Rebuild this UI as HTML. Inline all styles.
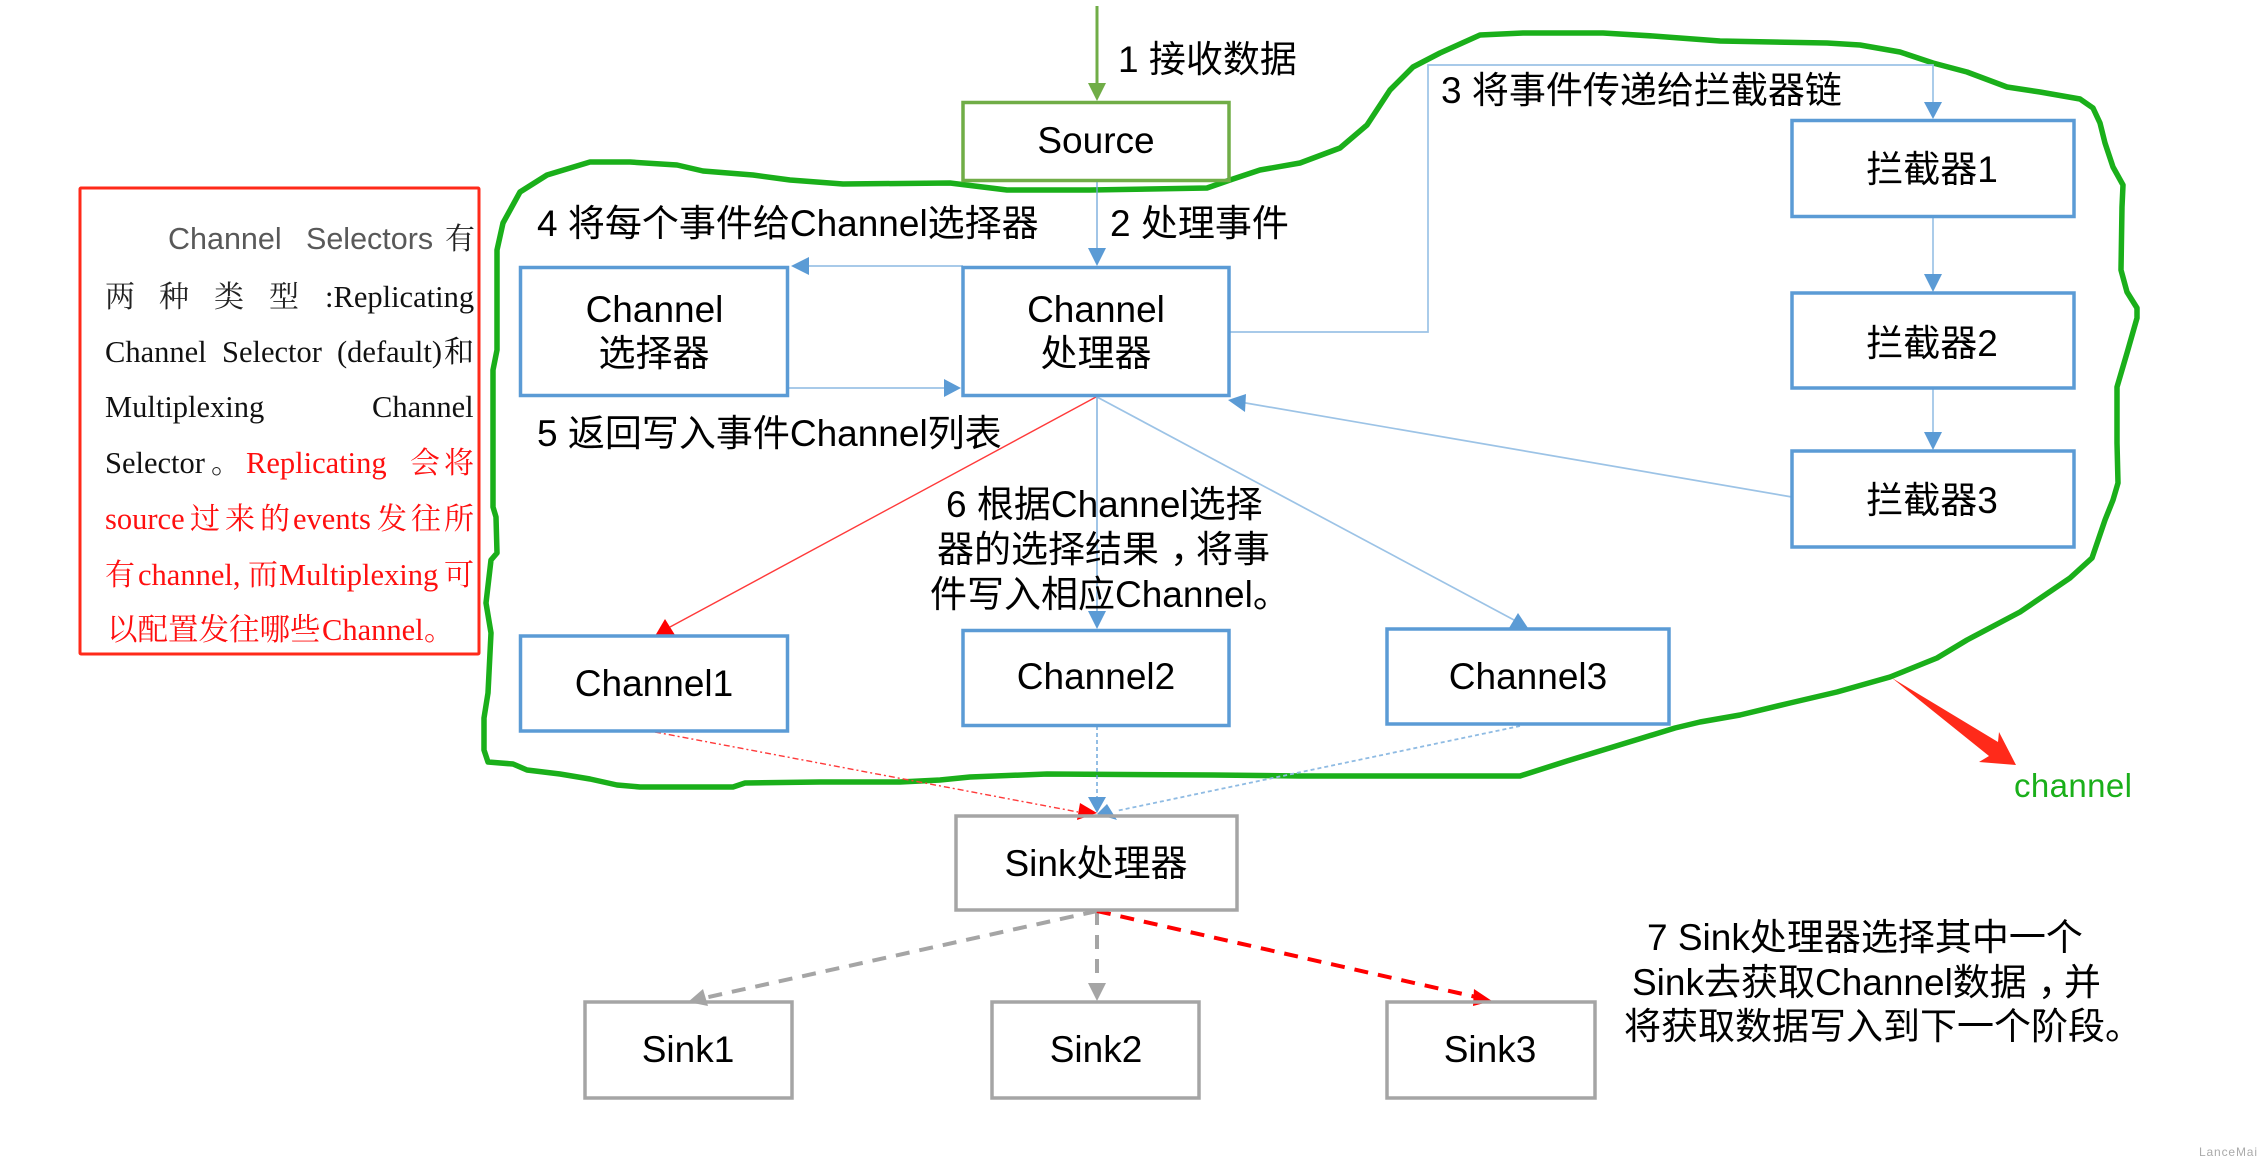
<!DOCTYPE html>
<html lang="zh">
<head>
<meta charset="utf-8">
<title>Flume Channel Diagram</title>
<style>
html,body{margin:0;padding:0;background:#fff;width:2266px;height:1166px;overflow:hidden}
svg{display:block}
text{font-family:"Liberation Sans","Noto Sans CJK SC",sans-serif;fill:#000}
.l{font-size:37px;text-anchor:middle}
.t{font-size:37px}
.s{font-family:"Liberation Serif","Noto Serif CJK SC",serif;font-size:30.5px;fill:#111}
.c{font-family:"Liberation Serif","Noto Serif CJK SC",serif;font-size:30px;fill:#222}
.r{fill:#ff0f0f}
.box{fill:none;stroke:#5b9bd5;stroke-width:3.5}
.g{fill:none;stroke:#a5a5a5;stroke-width:3.5}
.w{fill:none;stroke:#9cc3e6;stroke-width:1.7}
.n{fill:none;stroke:#6ea6da;stroke-width:1.3}
.h{fill:#5b9bd5}
</style>
</head>
<body>
<svg width="2266" height="1166" viewBox="0 0 2266 1166" xmlns="http://www.w3.org/2000/svg">
<rect width="2266" height="1166" fill="#fff"/>

<!-- green blob -->
<path fill="none" stroke="#1aaf1a" stroke-width="5.5" stroke-linejoin="round" stroke-linecap="round" d="M590 162 L630 162 L677 165 L703 171 L753 175 L790 180 L843 184 L950 183 L1007 190 L1090 190 L1207 188 L1233 179 L1260 170 L1300 163 L1340 148 L1367 125 L1390 90 L1413 67 L1440 53 L1480 35 L1523 33 L1603 33 L1653 36 L1720 41 L1827 43 L1860 45 L1900 52 L1933 63 L1967 72 L2007 87 L2040 92 L2080 99 L2093 108 L2100 123 L2105 143 L2113 167 L2123 185 L2122 207 L2121 270 L2127 292 L2137 308 L2137 318 L2127 353 L2117 387 L2117 443 L2118 483 L2113 500 L2105 520 L2092 558 L2070 578 L2020 612 L1967 640 L1937 658 L1890 677 L1837 692 L1790 703 L1740 715 L1700 722 L1675 728 L1639 739 L1567 761 L1520 776 L1300 776 L1213 775 L1047 774 L970 777 L940 780 L900 782 L820 782 L745 783 L733 787 L640 787 L617 785 L590 779 L560 774 L527 770 L513 764 L488 762 L484 750 L484 718 L488 693 L491 633 L486 603 L491 560 L497 553 L496 517 L493 507 L493 370 L497 350 L497 250 L503 223 L520 192 L547 175 Z"/>

<!-- connectors -->
<line x1="1097" y1="6" x2="1097" y2="90" stroke="#70ad47" stroke-width="3"/>
<polygon points="1088,83 1106,83 1097,101" fill="#70ad47"/>

<line class="n" x1="1097" y1="181" x2="1097" y2="250"/>
<polygon class="h" points="1088,248 1106,248 1097,266"/>

<line class="w" x1="963" y1="266" x2="805" y2="266"/>
<polygon class="h" points="791,266 809,257 809,275"/>

<line class="w" x1="788" y1="388" x2="948" y2="388"/>
<polygon class="h" points="944,379 961,388 944,397"/>

<polyline class="w" stroke-width="2" points="1229,332 1428,332 1428,65 1933,65 1933,105"/>
<polygon class="h" points="1924,102 1942,102 1933,119"/>

<line class="w" x1="1933" y1="216" x2="1933" y2="276"/>
<polygon class="h" points="1924,274 1942,274 1933,292"/>
<line class="w" x1="1933" y1="388" x2="1933" y2="434"/>
<polygon class="h" points="1924,432 1942,432 1933,450"/>

<line class="w" x1="1792" y1="497" x2="1240" y2="402"/>
<polygon class="h" points="1228,400 1246,394 1245,412"/>

<line x1="1096" y1="397" x2="670" y2="627" stroke="#ff3a3a" stroke-width="1.4"/>
<polygon points="665,619 655,636 675,635" fill="#ff0000"/>
<line class="n" x1="1097" y1="396" x2="1097" y2="613"/>
<polygon class="h" points="1088,611 1106,611 1097,629"/>
<line class="w" x1="1097" y1="397" x2="1514" y2="620"/>
<polygon class="h" points="1518,613 1509,628 1528,628"/>

<line x1="655" y1="732" x2="1078" y2="812" stroke="#ff3a3a" stroke-width="1.4" stroke-dasharray="6 3 2 3"/>
<polygon points="1097,813 1080,803 1077,820" fill="#ff0000"/>
<line x1="1097" y1="726" x2="1097" y2="800" stroke="#5b9bd5" stroke-width="1.3" stroke-dasharray="4 3"/>
<polygon class="h" points="1088,797 1106,797 1097,813"/>
<line x1="1520" y1="726" x2="1116" y2="811" stroke="#8fbbe3" stroke-width="1.8" stroke-dasharray="4 3"/>
<polygon class="h" points="1097,814 1107,804 1117,820"/>

<line x1="1097" y1="911" x2="704" y2="998" stroke="#a5a5a5" stroke-width="4" stroke-dasharray="14 10"/>
<polygon points="703,989 688,1002 708,1006" fill="#a5a5a5"/>
<line x1="1097" y1="911" x2="1097" y2="985" stroke="#a5a5a5" stroke-width="4" stroke-dasharray="14 10"/>
<polygon points="1088,983 1106,983 1097,1001" fill="#a5a5a5"/>
<line x1="1097" y1="911" x2="1476" y2="997" stroke="#ff0000" stroke-width="4" stroke-dasharray="14 10"/>
<polygon points="1474,989 1492,1001 1473,1006" fill="#ff0000"/>

<!-- big red arrow -->
<polygon points="1892,678 1998,742 1999,732 2016,765 1979,762 1989,756" fill="#ff2a1a"/>

<!-- boxes -->
<rect x="963" y="102.5" width="266" height="78" fill="none" stroke="#70ad47" stroke-width="3.5"/>
<rect class="box" x="520.5" y="267.5" width="267" height="128"/>
<rect class="box" x="963" y="267.5" width="266" height="128"/>
<rect class="box" x="1792" y="120.5" width="282" height="96"/>
<rect class="box" x="1792" y="293" width="282" height="95"/>
<rect class="box" x="1792" y="451" width="282" height="96"/>
<rect class="box" x="520.5" y="636" width="267" height="95"/>
<rect class="box" x="963" y="630.5" width="266" height="95"/>
<rect class="box" x="1387" y="629" width="282" height="95"/>
<rect class="g" x="956" y="816" width="281" height="94"/>
<rect class="g" x="585" y="1002" width="207" height="96"/>
<rect class="g" x="992" y="1002" width="207" height="96"/>
<rect class="g" x="1387" y="1002" width="208" height="96"/>

<!-- box labels -->
<text class="l" x="1096" y="153">Source</text>
<text class="l" x="654.5" y="322">Channel</text>
<text class="l" x="654" y="366">选择器</text>
<text class="l" x="1096" y="322">Channel</text>
<text class="l" x="1096" y="366">处理器</text>
<text class="l" x="1932" y="182">拦截器1</text>
<text class="l" x="1932" y="356">拦截器2</text>
<text class="l" x="1932" y="513">拦截器3</text>
<text class="l" x="654" y="696">Channel1</text>
<text class="l" x="1096" y="689">Channel2</text>
<text class="l" x="1528" y="689">Channel3</text>
<text class="l" x="1096" y="876">Sink处理器</text>
<text class="l" x="688" y="1062">Sink1</text>
<text class="l" x="1096" y="1062">Sink2</text>
<text class="l" x="1490" y="1062">Sink3</text>

<!-- step labels -->
<text class="t" x="1118" y="72">1 接收数据</text>
<text class="t" x="1110" y="236">2 处理事件</text>
<text class="t" x="537" y="236">4 将每个事件给Channel选择器</text>
<text class="t" x="537" y="446">5 返回写入事件Channel列表</text>
<text class="t" x="1441" y="103">3 将事件传递给拦截器链</text>
<text class="t" x="946" y="517">6 根据Channel选择</text>
<text class="t" x="937" y="562">器的选择结果<tspan dx="11">，</tspan><tspan dx="-11">将事</tspan></text>
<text class="t" x="930" y="607">件写入相应Channel。</text>
<text class="t" x="1647" y="950">7 Sink处理器选择其中一个</text>
<text class="t" x="1632" y="995">Sink去获取Channel数据<tspan dx="11">，</tspan><tspan dx="-11">并</tspan></text>
<text class="t" x="1624" y="1039">将获取数据写入到下一个阶段。</text>
<text x="2014" y="797" font-size="33" textLength="118" style="fill:#1aaf1a">channel</text>
<text x="2199" y="1156" font-size="12" textLength="58" style="fill:#aaa">LanceMai</text>

<!-- red note box -->
<rect x="80" y="188" width="399" height="466" fill="none" stroke="#ff2a1a" stroke-width="3" rx="1"/>

<text x="168" y="249" font-size="30.5" style="fill:#595959">Channel</text>
<text x="306" y="249" font-size="30.5" style="fill:#595959">Selectors</text>
<text class="c" x="445" y="249">有</text>

<text class="c" x="105" y="307">两</text>
<text class="c" x="159" y="307">种</text>
<text class="c" x="214" y="307">类</text>
<text class="c" x="269" y="307">型</text>
<text class="s" x="325" y="307">:Replicating</text>

<text class="s" x="105" y="362">Channel</text>
<text class="s" x="222" y="362">Selector</text>
<text class="s" x="337" y="362">(default)</text>
<text class="c" x="444" y="362" style="fill:#111">和</text>

<text class="s" x="105" y="417">Multiplexing</text>
<text class="s" x="372" y="417">Channel</text>

<text class="s" x="105" y="473">Selector</text>
<text class="c" x="211" y="473">。</text>
<text class="s r" x="246" y="473">Replicating</text>
<text class="c r" x="410" y="473">会</text>
<text class="c r" x="444" y="473">将</text>

<text class="s r" x="105" y="529">source</text>
<text class="c r" x="190" y="529">过</text>
<text class="c r" x="225" y="529">来</text>
<text class="c r" x="260" y="529">的</text>
<text class="s r" x="293" y="529">events</text>
<text class="c r" x="377" y="529">发</text>
<text class="c r" x="411" y="529">往</text>
<text class="c r" x="444" y="529">所</text>

<text class="c r" x="105" y="585">有</text>
<text class="s r" x="138" y="585">channel,</text>
<text class="c r" x="248" y="585">而</text>
<text class="s r" x="279" y="585">Multiplexing</text>
<text class="c r" x="444" y="585">可</text>

<text class="c r" x="107" y="640" style="font-size:30.5px">以配置发往哪些</text>
<text class="s r" x="322" y="640">Channel</text>
<text class="c r" x="424" y="640">。</text>
</svg>
</body>
</html>
